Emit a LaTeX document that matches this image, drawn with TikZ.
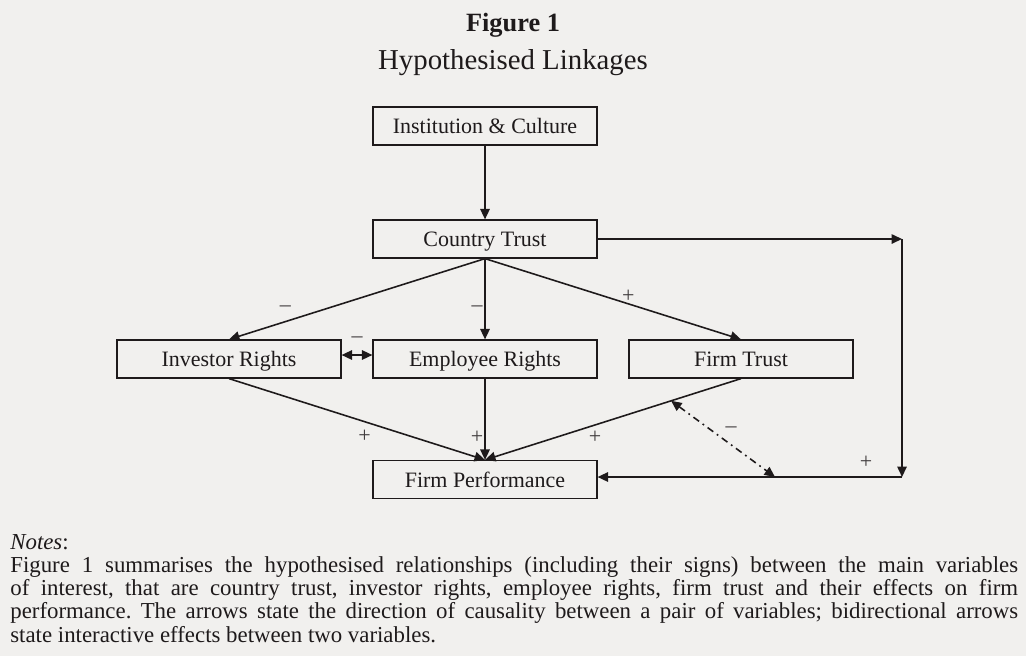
\documentclass[tikz,border=0pt]{standalone}
\usepackage{fontspec}
\setmainfont{Liberation Serif}
\usetikzlibrary{arrows.meta,calc}
\definecolor{paper}{RGB}{241,240,238}
\definecolor{ink}{RGB}{30,26,27}

\begin{document}
\begin{tikzpicture}[x=0.02cm,y=-0.02cm,>={Triangle[length=0.21cm,width=0.19cm]}]
  \tikzstyle{var}=[draw=ink,line width=0.7pt,minimum width=4.48cm,minimum height=0.76cm,inner sep=0pt,text height=1.1em,text depth=0.24em,text=ink,font=\fontsize{12.5}{15}\selectfont]
  \tikzstyle{link}=[draw=ink,line width=0.9pt,->]
  \tikzstyle{sign}=[text=ink!85,font=\fontsize{12.5}{14}\selectfont,inner sep=0pt]
  \fill[paper] (0,0) rectangle (1026,656);
  % title
  \node[anchor=base,text=ink,font=\bfseries\fontsize{15}{18}\selectfont] (fig) at (513,31) {Figure 1};
  \node[anchor=base,text=ink,font=\fontsize{16.4}{19}\selectfont] (ttl) at (513,69) {Hypothesised Linkages};
  % variables
  \node[var] (inst) at (485,126) {Institution \& Culture};
  \node[var] (ctrust) at (485,239) {Country Trust};
  \node[var] (invr) at (229,359) {Investor Rights};
  \node[var] (empr) at (485,359) {Employee Rights};
  \node[var] (ftrust) at (741,359) {Firm Trust};
  \node[var] (fperf) at (485,479.5) {Firm Performance};
  \coordinate (rt) at (902,239);
  \coordinate (rb) at (902,477);
  \coordinate (fbk) at (775,477);
  \coordinate (ftx) at ($(ftrust.south)!.273!(fperf.north)$);
  % links
  \path (inst) edge[link] (ctrust);
  \path (ctrust.south) edge[link] node[sign,pos=.78,yshift=.26cm] {--} (invr.north);
  \path (ctrust) edge[link] node[sign,pos=.62,xshift=-.16cm] {--} (empr);
  \path (ctrust.south) edge[link] node[sign,pos=.56,yshift=.16cm] {+} (ftrust.north);
  \path ([yshift=.08cm]invr.east) edge[link,<->] node[sign,yshift=.3cm] {--} ([yshift=.08cm]empr.west);
  \path (invr.south) edge[link] node[sign,pos=.53,yshift=-.3cm] {+} (fperf.north);
  \path (empr) edge[link] node[sign,pos=.72,xshift=-.16cm] {+} (fperf);
  \path (ftrust.south) edge[link] node[sign,pos=.57,yshift=-.25cm] {+} (fperf.north);
  \path (ctrust) edge[link] (rt);
  \path (rt) edge[link] (rb);
  \path (rb) edge[link] node[sign,pos=.118,yshift=.3cm] {+} (fperf.east |- rb);
  \path (ftx) edge[link,<->,dash pattern=on 4pt off 2.5pt on 1pt off 2.5pt] node[sign,xshift=.16cm,yshift=.18cm] {--} (fbk);
  % notes
  \node[anchor=base west,inner sep=0pt,text=ink,font=\fontsize{13}{13.2}\selectfont] (nlbl) at (10,549) {\textit{Notes}:};
  \node[anchor=base west,inner sep=0pt,text=ink,text width=20.16cm,align=justify,font=\fontsize{13}{13.15}\selectfont\frenchspacing] (ntxt) at (10,572.7)
    {Figure 1 summarises the hypothesised relationships (including their signs) between the main variables\linebreak
     of interest, that are country trust, investor rights, employee rights, firm trust and their effects on firm\linebreak
     performance. The arrows state the direction of causality between a pair of variables; bidirectional arrows\linebreak
     state interactive effects between two variables.};
\end{tikzpicture}
\end{document}
